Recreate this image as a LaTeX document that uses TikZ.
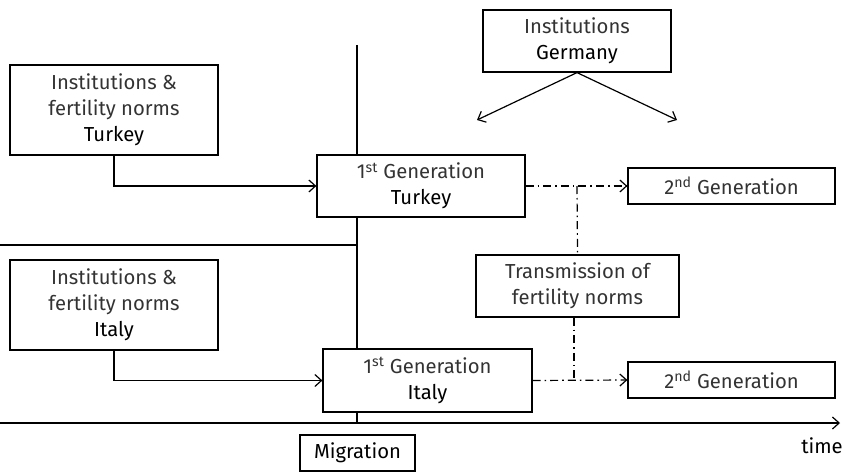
\documentclass[tikz,border=0pt]{standalone}
\usepackage{fontspec}
\setmainfont{Fira Sans}
\usetikzlibrary{arrows.meta}
\begin{document}
\begin{tikzpicture}[x=0.75pt,y=-0.75pt,
  box/.style={draw, fill=white, line width=0.9pt, align=center, inner sep=0pt, text=black!80, font=\fontsize{15.2}{19.5}\selectfont},
  arr/.style={line width=0.9pt, -{Straight Barb[length=5pt,width=9pt]}},
  ln/.style={line width=0.9pt},
  dd/.style={line width=0.9pt, dash pattern=on 6pt off 3pt on 1.2pt off 3pt}]
\useasboundingbox (0,0) rectangle (845,474);
% main vertical line and horizontals
\coordinate (vtop) at (357,45);
\coordinate (vbot) at (357,423);
\coordinate (hl) at (0,245);
\coordinate (ax0) at (0,423);
\coordinate (ax1) at (840,423);
\draw[ln] (vtop) -- (vbot);
\draw[ln] (hl) -- (hl -| vtop);
\draw[arr] (ax0) -- (ax1);
\node[anchor=center, text=black, font=\fontsize{15.2}{17}\selectfont] (time) at (822,446) {time};

% boxes
\node[box, minimum width=156pt, minimum height=67.5pt] (instT) at (114,110) {Institutions \&\\fertility norms\\{\color{black}Turkey}};
\node[box, minimum width=156pt, minimum height=67.5pt] (instI) at (114,305) {Institutions \&\\fertility norms\\{\color{black}Italy}};
\node[box, minimum width=156pt, minimum height=46.5pt] (genT) at (421,186) {1\textsuperscript{st} Generation\\{\color{black}Turkey}};
\node[box, minimum width=156.75pt, minimum height=47.25pt] (genI) at (427.5,380.5) {1\textsuperscript{st} Generation\\{\color{black}Italy}};
\node[box, minimum width=155.25pt, minimum height=27pt] (secT) at (731.5,186) {2\textsuperscript{nd} Generation};
\node[box, minimum width=155.25pt, minimum height=27pt] (secI) at (731.5,380) {2\textsuperscript{nd} Generation};
\node[box, minimum width=152.25pt, minimum height=46.5pt] (trans) at (577.5,286) {Transmission of\\fertility norms};
\node[box, minimum width=141pt, minimum height=46.5pt] (germ) at (577,41) {Institutions\\{\color{black}Germany}};
\node[box, minimum width=86.25pt, minimum height=27pt, text=black] (migr) at (357.5,453) {Migration};

% connectors
\draw[arr] (instT.south) |- (genT.west);
\draw[arr] (instI.south) |- (genI.west);
\coordinate (gl) at (477,120);
\coordinate (gr) at (677,120);
\draw[arr] (germ.south) -- (gl);
\draw[arr] (germ.south) -- (gr);
\draw[dd, -{Straight Barb[length=5pt,width=9pt]}] (genT.east) -- (secT.west);
\draw[dd, -{Straight Barb[length=5pt,width=9pt]}] (genI.east) -- (secI.west);
\coordinate (jt) at (577,186);
\coordinate (ji) at (574,380);
\draw[dd] (jt) -- (trans.north);
\draw[dd] (trans.south -| ji) -- (ji);
\end{tikzpicture}
\end{document}
